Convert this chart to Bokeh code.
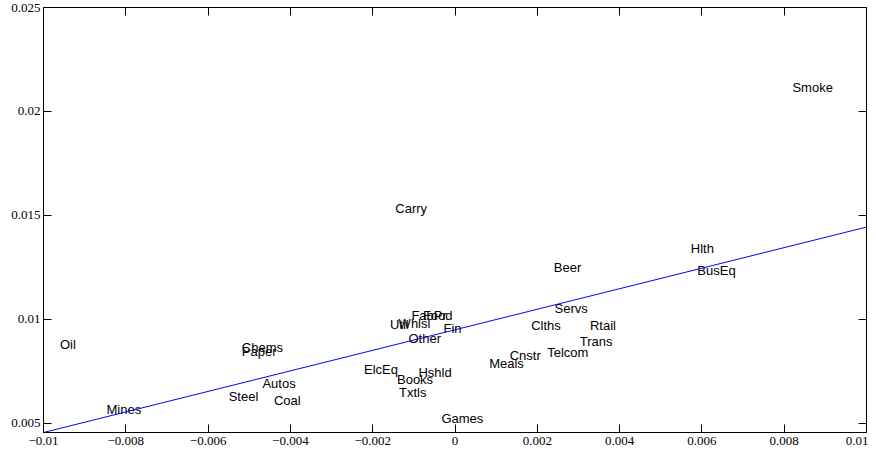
from bokeh.plotting import figure
from bokeh.models import ColumnDataSource, Range1d, LinearAxis, FixedTicker, CustomJSTickFormatter
from bokeh.core.properties import value
from bokeh.embed import file_html
from bokeh.resources import INLINE

industries = ["Oil", "Chems", "Paper", "Autos", "Steel", "Coal", "Mines",
              "Carry", "Beer", "Servs", "Clths", "Rtail", "Trans", "Telcom",
              "Cnstr", "Meals", "ElcEq", "Hshld", "Books", "Txtls", "Games",
              "Other", "Fin", "Util", "Whlsl", "FabPr", "Food",
              "Smoke", "Hlth", "BusEq"]
x_vals = [-0.0096, -0.00518, -0.00518, -0.00468, -0.00550, -0.00440, -0.00847,
          -0.00145, 0.00240, 0.00242, 0.00185, 0.00328, 0.00303, 0.00224,
          0.00133, 0.00083, -0.00221, -0.00089, -0.00141, -0.00136, -0.00033,
          -0.00113, -0.00028, -0.00158, -0.00137, -0.00106, -0.00078,
          0.00820, 0.00573, 0.00589]
y_vals = [0.00880, 0.00864, 0.00845, 0.00690, 0.00628, 0.00609, 0.00566,
          0.01533, 0.01251, 0.01050, 0.00972, 0.00972, 0.00895, 0.00840,
          0.00827, 0.00789, 0.00757, 0.00745, 0.00709, 0.00646, 0.00525,
          0.00910, 0.00955, 0.00975, 0.00978, 0.01018, 0.01018,
          0.02113, 0.01341, 0.01234]

fit_x = [-0.01, 0.01]
fit_y = [0.00456, 0.01444]

x_ticks = [-0.01, -0.008, -0.006, -0.004, -0.002, 0.0, 0.002, 0.004, 0.006, 0.008, 0.01]
y_ticks = [0.005, 0.01, 0.015, 0.02, 0.025]

p = figure(width=868, height=447, output_backend="svg", toolbar_location=None,
           x_range=Range1d(-0.01, 0.01), y_range=Range1d(0.00456, 0.025),
           x_axis_location=None, y_axis_location=None,
           min_border_left=43, min_border_right=2, min_border_top=7, min_border_bottom=10)
p.grid.visible = False
p.outline_line_color = "black"
p.outline_line_width = 1
p.background_fill_color = "white"
p.border_fill_color = "white"

fmt = CustomJSTickFormatter(code="""
var s = parseFloat(tick.toFixed(6)).toString();
if (s === "-0") s = "0";
return s.replace('-', '\\u2212');
""")
blank_fmt = CustomJSTickFormatter(code="return '';")

def make_axis(ticks, show_labels, standoff):
    ax = LinearAxis(ticker=FixedTicker(ticks=ticks), formatter=fmt if show_labels else blank_fmt)
    ax.major_tick_in = 8
    ax.major_tick_out = 0
    ax.minor_tick_line_color = None
    ax.axis_line_color = "black"
    ax.major_tick_line_color = "black"
    ax.major_label_text_font = "Liberation Serif"
    ax.major_label_text_font_size = "13px"
    ax.major_label_text_color = "black"
    ax.major_label_standoff = standoff
    if not show_labels:
        ax.major_label_text_color = None
        ax.major_label_text_font_size = "0px"
        ax.major_label_standoff = 0
    return ax

p.add_layout(make_axis(x_ticks, True, 4), "below")
p.add_layout(make_axis(y_ticks, True, 3), "left")
p.add_layout(make_axis(x_ticks, False, 0), "above")
p.add_layout(make_axis(y_ticks, False, 0), "right")

src = ColumnDataSource(dict(x=x_vals, y=y_vals, name=industries))
p.text(x="x", y="y", text="name", source=src,
       text_font=value("Liberation Sans"), text_font_size="13px",
       text_align="left", text_baseline="middle", text_color="black")

p.line(fit_x, fit_y, line_color="#0000ff", line_width=1)

open("out.html", "w").write(file_html(p, INLINE))
